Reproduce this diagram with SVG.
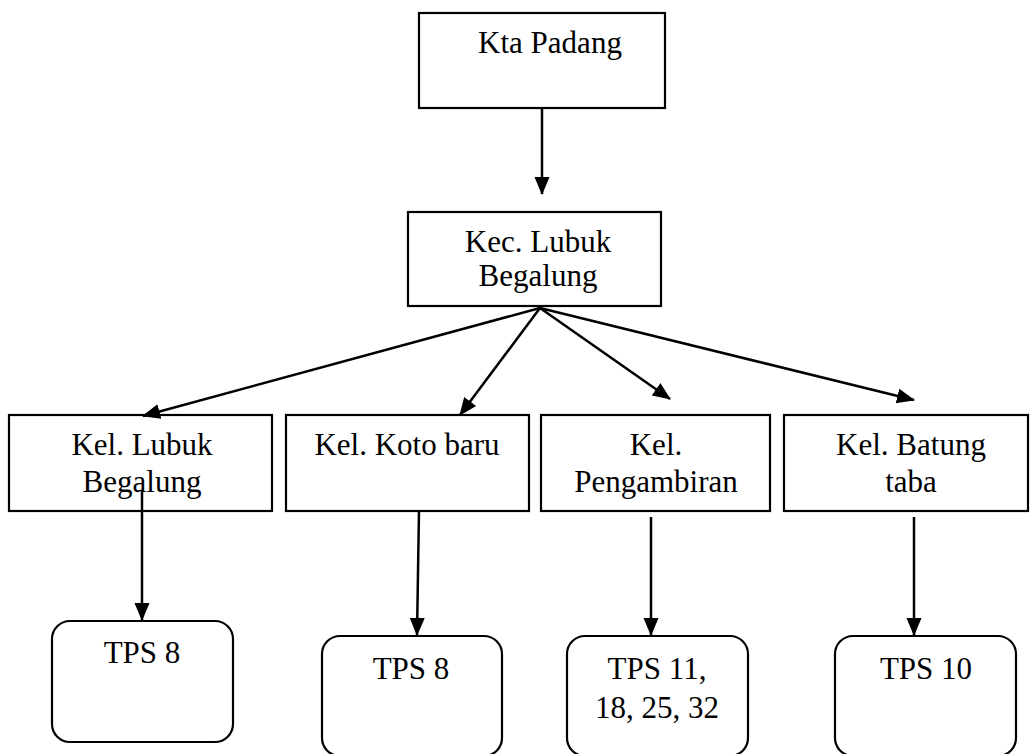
<svg xmlns="http://www.w3.org/2000/svg" width="1030" height="754" viewBox="0 0 1030 754">
<style>
.box{fill:#fff;stroke:#000;stroke-width:2.2}
text{font-family:'Liberation Serif','DejaVu Serif',serif;font-size:31px;fill:#000;text-anchor:middle}
.c{stroke:#000;stroke-width:2.5;fill:none;marker-end:url(#ah)}
</style>
<defs>
<marker id="ah" markerUnits="userSpaceOnUse" markerWidth="18" markerHeight="18" viewBox="0 0 18 18" refX="17" refY="9" orient="auto">
<path d="M0,1.5 L18,9 L0,16.5 Z" fill="#000"/>
</marker>
</defs>
<rect width="1030" height="754" fill="#fff"/>
<g id="kota"><rect class="box" x="419" y="13" width="246" height="95"/><text x="550" y="53">Kta Padang</text></g>
<g id="kec"><rect class="box" x="408" y="212" width="253" height="94"/><text x="538" y="252">Kec. Lubuk</text><text x="538" y="286">Begalung</text></g>
<g id="kel1"><rect class="box" x="9" y="415" width="263" height="96"/><text x="142" y="455">Kel. Lubuk</text><text x="142" y="492">Begalung</text></g>
<g id="kel2"><rect class="box" x="286" y="415" width="243" height="96"/><text x="407" y="455">Kel. Koto baru</text></g>
<g id="kel3"><rect class="box" x="541" y="415" width="229" height="96"/><text x="656" y="455">Kel.</text><text x="656" y="492">Pengambiran</text></g>
<g id="kel4"><rect class="box" x="784" y="415" width="244" height="96"/><text x="911" y="455">Kel. Batung</text><text x="911" y="492">taba</text></g>
<g id="tps1"><rect class="box" x="52" y="621" width="181" height="121" rx="18"/><text x="142" y="663">TPS 8</text></g>
<g id="tps2"><rect class="box" x="322" y="636" width="180" height="120" rx="18"/><text x="411" y="679">TPS 8</text></g>
<g id="tps3"><rect class="box" x="567" y="636" width="181" height="120" rx="18"/><text x="657" y="679">TPS 11,</text><text x="657" y="718">18, 25, 32</text></g>
<g id="tps4"><rect class="box" x="835" y="636" width="181" height="120" rx="18"/><text x="926" y="679">TPS 10</text></g>
<g id="connectors">
<line class="c" x1="542" y1="108" x2="542" y2="194"/>
<line class="c" x1="540" y1="308" x2="143" y2="416"/>
<line class="c" x1="540" y1="308" x2="460" y2="415"/>
<line class="c" x1="540" y1="308" x2="670" y2="399"/>
<line class="c" x1="540" y1="308" x2="914" y2="400"/>
<line class="c" x1="142" y1="490" x2="142" y2="620"/>
<line class="c" x1="419" y1="510" x2="417" y2="635"/>
<line class="c" x1="651" y1="517" x2="651" y2="635"/>
<line class="c" x1="914" y1="517" x2="914" y2="635"/>
</g>
</svg>
